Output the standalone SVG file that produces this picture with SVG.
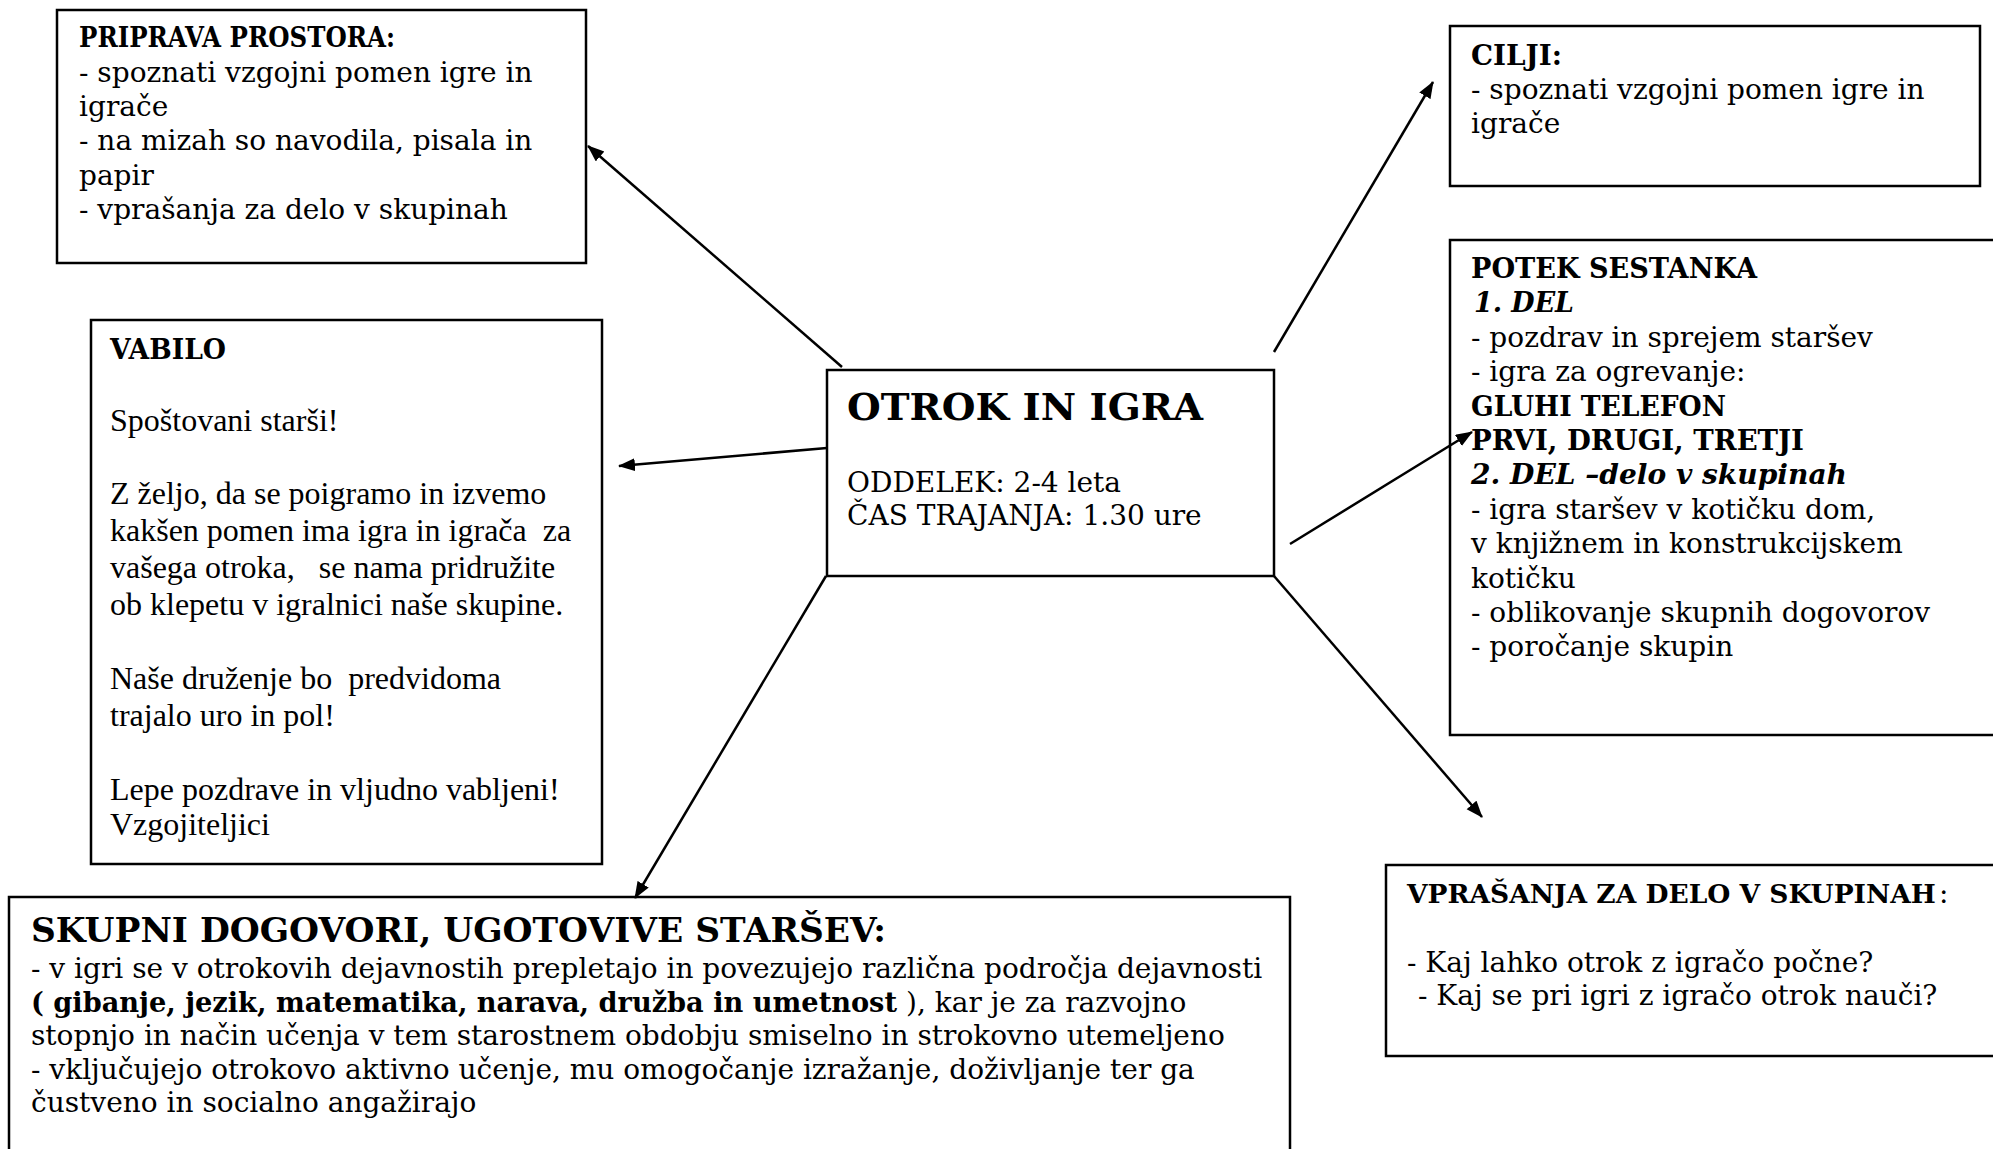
<svg xmlns="http://www.w3.org/2000/svg" width="1993" height="1149" viewBox="0 0 1993 1149">
<style>
.box{fill:#fff;stroke:#000;stroke-width:2.5}
.t{font-family:"DejaVu Serif","Liberation Serif",serif;font-size:28px;fill:#000}
.h{font-family:"DejaVu Serif","Liberation Serif",serif;font-size:28px;font-weight:bold;fill:#000}
.hi{font-family:"DejaVu Serif","Liberation Serif",serif;font-size:28px;font-weight:bold;font-style:italic;fill:#000}
.tr{font-family:"Liberation Serif","Times New Roman",serif;font-size:32px;fill:#000}
.con{stroke:#000;stroke-width:2.5;fill:none;marker-end:url(#ah)}
</style>
<defs>
<marker id="ah" markerUnits="userSpaceOnUse" markerWidth="18" markerHeight="14" refX="16" refY="6.5" orient="auto">
<path d="M0,0 L17,6.5 L0,13 z" fill="#000"/>
</marker>
</defs>
<rect width="1993" height="1149" fill="#fff"/>

<g id="priprava">
<rect class="box" x="57" y="10" width="529" height="253"/>
<text class="h" x="79" y="47" textLength="316" lengthAdjust="spacingAndGlyphs">PRIPRAVA PROSTORA:</text>
<text class="t" x="79" y="81.5">- spoznati vzgojni pomen igre in</text>
<text class="t" x="79" y="116">igrače</text>
<text class="t" x="79" y="150">- na mizah so navodila, pisala in</text>
<text class="t" x="79" y="185">papir</text>
<text class="t" x="79" y="219">- vprašanja za delo v skupinah</text>
</g>

<g id="vabilo">
<rect class="box" x="91" y="320" width="511" height="544"/>
<text class="h" x="110" y="359" textLength="116" lengthAdjust="spacingAndGlyphs">VABILO</text>
<text class="tr" x="110" y="431">Spoštovani starši!</text>
<text class="tr" x="110" y="504">Z željo, da se poigramo in izvemo</text>
<text class="tr" x="110" y="541" xml:space="preserve">kakšen pomen ima igra in igrača  za</text>
<text class="tr" x="110" y="578" xml:space="preserve">vašega otroka,   se nama pridružite</text>
<text class="tr" x="110" y="615">ob klepetu v igralnici naše skupine.</text>
<text class="tr" x="110" y="689" xml:space="preserve">Naše druženje bo  predvidoma</text>
<text class="tr" x="110" y="726">trajalo uro in pol!</text>
<text class="tr" x="110" y="800">Lepe pozdrave in vljudno vabljeni!</text>
<text class="tr" x="110" y="835">Vzgojiteljici</text>
</g>

<g id="center">
<rect class="box" x="827" y="370" width="447" height="206"/>
<text class="h" x="847" y="420" style="font-size:38px" textLength="356" lengthAdjust="spacingAndGlyphs">OTROK IN IGRA</text>
<text class="t" x="847" y="492">ODDELEK: 2-4 leta</text>
<text class="t" x="847" y="525">ČAS TRAJANJA: 1.30 ure</text>
</g>

<g id="cilji">
<rect class="box" x="1450" y="26" width="530" height="160"/>
<text class="h" x="1471" y="65" textLength="91" lengthAdjust="spacingAndGlyphs">CILJI:</text>
<text class="t" x="1471" y="99">- spoznati vzgojni pomen igre in</text>
<text class="t" x="1471" y="133">igrače</text>
</g>

<g id="potek">
<rect class="box" x="1450" y="240" width="560" height="495"/>
<text class="h" x="1471" y="278" textLength="286" lengthAdjust="spacingAndGlyphs">POTEK SESTANKA</text>
<text class="hi" x="1474" y="312.4" textLength="100" lengthAdjust="spacingAndGlyphs">1. DEL</text>
<text class="t" x="1471" y="346.8">- pozdrav in sprejem staršev</text>
<text class="t" x="1471" y="381.2">- igra za ogrevanje:</text>
<text class="h" x="1471" y="415.6" textLength="255" lengthAdjust="spacingAndGlyphs">GLUHI TELEFON</text>
<text class="h" x="1471" y="450" textLength="333" lengthAdjust="spacingAndGlyphs">PRVI, DRUGI, TRETJI</text>
<text class="hi" x="1471" y="484.4" textLength="376" lengthAdjust="spacingAndGlyphs">2. DEL –delo v skupinah</text>
<text class="t" x="1471" y="518.8">- igra staršev v kotičku dom,</text>
<text class="t" x="1471" y="553.2">v knjižnem in konstrukcijskem</text>
<text class="t" x="1471" y="587.6">kotičku</text>
<text class="t" x="1471" y="622">- oblikovanje skupnih dogovorov</text>
<text class="t" x="1471" y="656.4">- poročanje skupin</text>
</g>

<g id="vprasanja">
<rect class="box" x="1386" y="865" width="620" height="191"/>
<text class="h" x="1407" y="903" style="font-size:26.5px">VPRAŠANJA ZA DELO V SKUPINAH</text>
<text class="t" x="1939" y="903">:</text>
<text class="t" x="1407" y="972">- Kaj lahko otrok z igračo počne?</text>
<text class="t" x="1418" y="1005">- Kaj se pri igri z igračo otrok nauči?</text>
</g>

<g id="skupni">
<rect class="box" x="9" y="897" width="1281" height="270"/>
<text class="h" x="31" y="942" style="font-size:34px" textLength="855" lengthAdjust="spacingAndGlyphs">SKUPNI DOGOVORI, UGOTOVIVE STARŠEV:</text>
<text class="t" x="31" y="978">- v igri se v otrokovih dejavnostih prepletajo in povezujejo različna področja dejavnosti</text>
<text class="h" x="31" y="1011.5" textLength="866" lengthAdjust="spacingAndGlyphs">( gibanje, jezik, matematika, narava, družba in umetnost</text>
<text class="t" x="906" y="1011.5">), kar je za razvojno</text>
<text class="t" x="31" y="1045">stopnjo in način učenja v tem starostnem obdobju smiselno in strokovno utemeljeno</text>
<text class="t" x="31" y="1078.5">- vključujejo otrokovo aktivno učenje, mu omogočanje izražanje, doživljanje ter ga</text>
<text class="t" x="31" y="1112">čustveno in socialno angažirajo</text>
</g>

<g id="connectors">
<line class="con" x1="842" y1="367" x2="588" y2="146"/>
<line class="con" x1="827" y1="448" x2="619" y2="466"/>
<line class="con" x1="1274" y1="352" x2="1433" y2="82"/>
<line class="con" x1="1290" y1="544" x2="1472" y2="432"/>
<line class="con" x1="1274" y1="576" x2="1482" y2="817"/>
<line class="con" x1="826" y1="576" x2="635" y2="898"/>
</g>
</svg>
